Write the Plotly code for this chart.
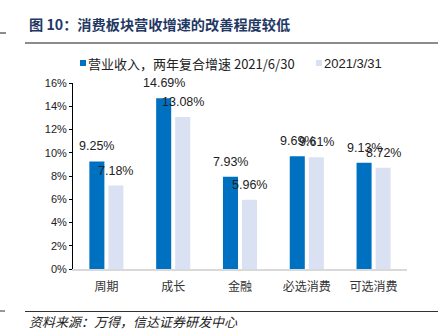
import plotly.graph_objects as go

categories = ["周期", "成长", "金融", "必选消费", "可选消费"]
series_names = ["营业收入，两年复合增速 2021/6/30", "2021/3/31"]
jun_values = [9.25, 14.69, 7.93, 9.69, 9.13]
mar_values = [7.18, 13.08, 5.96, 9.61, 8.72]
y_ticks = [0, 2, 4, 6, 8, 10, 12, 14, 16]
y_tick_labels = [f"{v}%" for v in y_ticks]

BLUE = "#0070C0"
LIGHT = "#D9E1F2"
TITLE_COLOR = "#1F3864"
NUM_FONT = "Liberation Sans, Arial, Noto Sans CJK SC"
CJK_FONT = "Noto Sans CJK SC, sans-serif"

W, H = 438, 335
L, R, T, B = 73, 31, 83, 66
pw, ph = W - L - R, H - T - B


def px(x):
    return (x - L) / pw


def py(y):
    return (H - B - y) / ph


fig = go.Figure()
fig.add_trace(go.Bar(x=categories, y=jun_values, name=series_names[0],
                     marker=dict(color=BLUE, line=dict(width=0)), showlegend=False))
fig.add_trace(go.Bar(x=categories, y=mar_values, name=series_names[1],
                     marker=dict(color=LIGHT, line=dict(width=0)), showlegend=False))

annotations = []
for vals, shift in ((jun_values, -9.5), (mar_values, 9.5)):
    for c, v in zip(categories, vals):
        annotations.append(dict(x=c, y=v, xref="x", yref="y", text=f"{v:.2f}%",
                                showarrow=False, xshift=shift, yshift=15,
                                xanchor="center", yanchor="middle",
                                font=dict(family=NUM_FONT, size=12.5, color="#222")))

# title
annotations.append(dict(x=px(27), y=py(24), xref="paper", yref="paper",
                        text="<b>图 10：消费板块营收增速的改善程度较低</b>", showarrow=False,
                        xanchor="left", yanchor="middle",
                        font=dict(family=CJK_FONT, size=14.2, color=TITLE_COLOR)))
# source
annotations.append(dict(x=px(27), y=py(321), xref="paper", yref="paper",
                        text="<i>资料来源：万得，信达证券研发中心</i>", showarrow=False,
                        xanchor="left", yanchor="middle",
                        font=dict(family=CJK_FONT, size=13, color="#222")))
# custom legend texts
annotations.append(dict(x=px(86), y=py(63), xref="paper", yref="paper",
                        text=series_names[0], showarrow=False, xanchor="left", yanchor="middle",
                        font=dict(family=CJK_FONT, size=13, color="#222")))
annotations.append(dict(x=px(322), y=py(63), xref="paper", yref="paper",
                        text=series_names[1], showarrow=False, xanchor="left", yanchor="middle",
                        font=dict(family=NUM_FONT, size=13, color="#222")))

shapes = [
    dict(type="line", xref="paper", yref="paper", x0=px(25), x1=px(438), y0=py(43), y1=py(43),
         line=dict(color="#8C8C8C", width=2)),
    dict(type="line", xref="paper", yref="paper", x0=px(0), x1=px(6), y0=py(33), y1=py(33),
         line=dict(color="#8C8C8C", width=2)),
    dict(type="line", xref="paper", yref="paper", x0=px(25), x1=px(438), y0=py(311.5), y1=py(311.5),
         line=dict(color="#333333", width=1)),
    dict(type="line", xref="paper", yref="paper", x0=px(0), x1=px(5), y0=py(311), y1=py(311),
         line=dict(color="#333333", width=1)),
    dict(type="rect", xref="paper", yref="paper", x0=px(80), x1=px(86), y0=py(66), y1=py(60),
         fillcolor=BLUE, line=dict(width=0)),
    dict(type="rect", xref="paper", yref="paper", x0=px(316), x1=px(322), y0=py(66), y1=py(60),
         fillcolor=LIGHT, line=dict(width=0)),
]

fig.update_layout(
    width=W, height=H,
    margin=dict(l=L, r=R, t=T, b=B, pad=0),
    paper_bgcolor="white", plot_bgcolor="white",
    barmode="group", bargap=0.43, bargroupgap=0.21,
    showlegend=False,
    annotations=annotations, shapes=shapes,
    font=dict(family=NUM_FONT, size=11, color="#222"),
)
fig.update_yaxes(range=[0, 16], tickvals=y_ticks, ticktext=y_tick_labels,
                 showgrid=False, zeroline=False, showline=True, linecolor="#000", linewidth=1,
                 ticks="outside", ticklen=3, tickcolor="#000",
                 tickfont=dict(family=NUM_FONT, size=11, color="#222"))
fig.update_xaxes(showgrid=False, zeroline=False, showline=True, linecolor="#D9D9D9", linewidth=1.5,
                 ticks="", tickfont=dict(family=CJK_FONT, size=12, color="#333"),
                 ticklabelstandoff=6)

fig.write_html("out.html")
